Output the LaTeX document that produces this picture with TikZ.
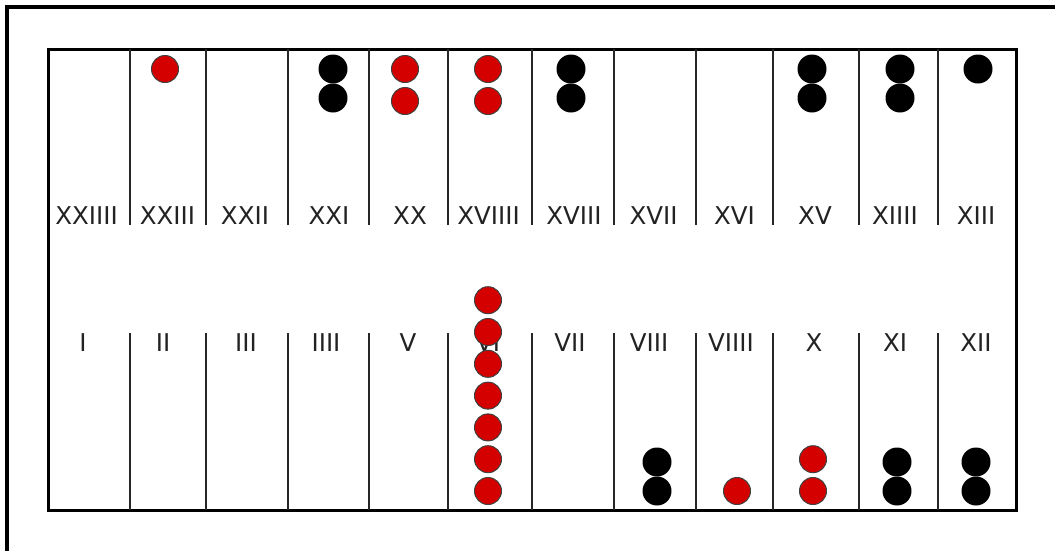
\documentclass[tikz,border=0pt]{standalone}
\usepackage{fontspec}
\setmainfont{DejaVu Sans}
\usepackage{xcolor}
\definecolor{rojoFicha}{HTML}{D40000}
\definecolor{textoPunta}{HTML}{222222}
\usepackage{tikz}

\tikzset{
  marco/.style={line width=4pt},
  tablero/.style={line width=3pt},
  divisor/.style={line width=2pt,draw=black!85},
  numeral/.style={inner sep=0pt,text=textoPunta,font=\fontsize{24.5}{28}\selectfont},
  fichaRoja/.style={fill=rojoFicha,draw=black!75,line width=1pt,radius=13.5pt},
  fichaNegra/.style={fill=black,radius=14.5pt}
}

\begin{document}
\begin{tikzpicture}[x=1pt,y=-1pt]
  \useasboundingbox (0,0) rectangle (1055,550);
  \clip (0,0) rectangle (1055,550);
  % marco exterior
  \draw[marco] (7,570) |- (1080,7);
  % tablero
  \draw[tablero] (48,49) rectangle (1016,510);
  \foreach \x in {130,206,288,369,448,532,614,696,773,859,938}{
    \draw[divisor] (\x,49)--(\x,225);
    \draw[divisor] (\x,333)--(\x,510);
  }
  % numerales
  \foreach \cx/\lab [count=\i] in {86.5/XXIIII,167.5/XXIII,245/XXII,329/XXI,410/XX,
      488.5/XVIIII,574/XVIII,653.5/XVII,734.5/XVI,815/XV,895/XIIII,976/XIII}
    \node[numeral] (sup\i) at (\cx,216) {\lab};
  \foreach \cx/\lab [count=\i] in {83/I,163/II,246/III,326/IIII,408/V,
      488/VI,570/VII,649/VIII,731/VIIII,814/X,895/XI,976/XII}
    \node[numeral] (inf\i) at (\cx,343) {\lab};
  % fichas arriba
  \foreach \cx/\n/\tipo/\paso in {165/1/fichaRoja/32,333/2/fichaNegra/29,
      405/2/fichaRoja/32,488/2/fichaRoja/32,571/2/fichaNegra/29,
      812/2/fichaNegra/29,900/2/fichaNegra/29,978/1/fichaNegra/29}
    \foreach \k in {1,...,\n}
      \path[\tipo] (\cx,{69+(\k-1)*\paso}) circle;
  % fichas abajo
  \foreach \cx/\n/\tipo/\paso in {488/7/fichaRoja/31.8,657/2/fichaNegra/29,
      737/1/fichaRoja/31.8,813/2/fichaRoja/31.8,897/2/fichaNegra/29,
      976/2/fichaNegra/29}
    \foreach \k in {1,...,\n}
      \path[\tipo] (\cx,{491-(\k-1)*\paso}) circle;
\end{tikzpicture}
\end{document}
